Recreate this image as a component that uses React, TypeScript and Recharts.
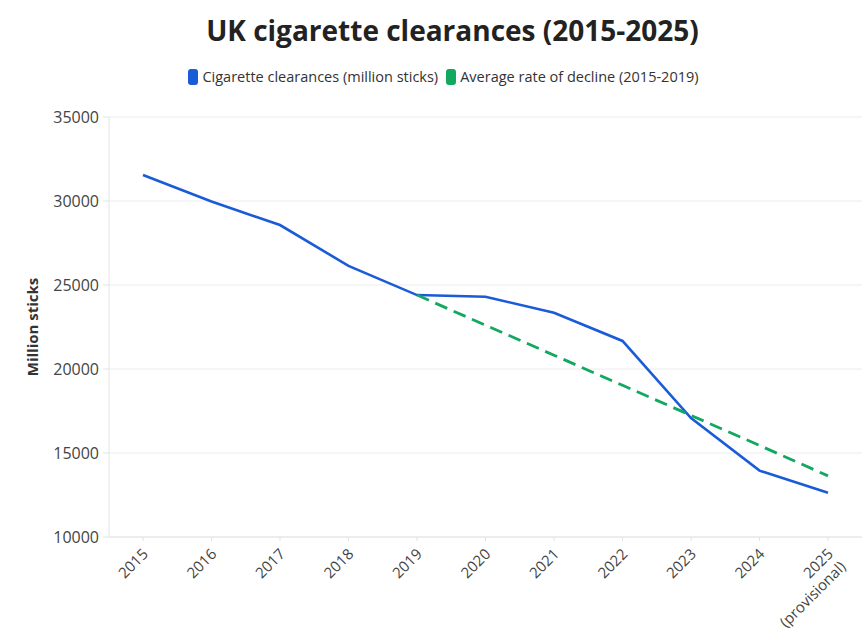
import React from 'react';
import { LineChart, Line, XAxis, YAxis, CartesianGrid } from 'recharts';

const years = ['2015', '2016', '2017', '2018', '2019', '2020', '2021', '2022', '2023', '2024', '2025 (provisional)'];
const clearances = [31550, 29970, 28570, 26140, 24400, 24300, 23350, 21670, 17080, 13950, 12640];
const trend: (number | null)[] = [null, null, null, null, 24400, 22610, 20820, 19030, 17240, 15450, 13640];
const yTicks = [10000, 15000, 20000, 25000, 30000, 35000];

const BLUE = '#1a5bd8';
const GREEN = '#13a862';
const FONT = '"Open Sans", "DejaVu Sans", sans-serif';

const data = years.map((y, i) => ({ year: y, clearances: clearances[i], trend: trend[i] }));

const XTick = (props: any) => {
  const { x, payload } = props;
  const lines = String(payload.value).split(' ');
  return (
    <g transform={`translate(${x + 6},${555})`}>
      <text transform="rotate(-45)" textAnchor="end" fill="#444" fontSize={15} fontFamily={FONT}>
        {lines.map((l: string, i: number) => (
          <tspan key={i} x={0} dy={i === 0 ? 0 : 18}>{l}</tspan>
        ))}
      </text>
    </g>
  );
};

const LegendItem = ({ color, label }: { color: string; label: string }) => (
  <span style={{ display: 'inline-flex', alignItems: 'center', marginRight: 8 }}>
    <span style={{ display: 'inline-block', width: 10, height: 16, borderRadius: 3, background: color, marginRight: 4 }} />
    <span>{label}</span>
  </span>
);

export default function App() {
  return (
    <div style={{ position: 'absolute', left: 0, top: 0, width: 865, height: 643, background: '#fff', fontFamily: FONT }}>
      <div style={{ position: 'absolute', top: 11, left: 20, width: 865, textAlign: 'center', fontSize: 28, fontWeight: 700, color: '#222', lineHeight: '38px' }}>
        UK cigarette clearances (2015-2025)
      </div>
      <div style={{ position: 'absolute', top: 67, left: 15, width: 865, display: 'flex', justifyContent: 'center', fontSize: 14.5, color: '#333', lineHeight: '20px' }}>
        <LegendItem color={BLUE} label="Cigarette clearances (million sticks)" />
        <LegendItem color={GREEN} label="Average rate of decline (2015-2019)" />
      </div>
      <LineChart width={865} height={643} data={data} margin={{ top: 117, right: 3, bottom: 76, left: 49 }} style={{ position: 'absolute', left: 0, top: 0 }}>
        <CartesianGrid vertical={false} stroke="#ececec" />
        <XAxis
          dataKey="year"
          height={30}
          padding={{ left: 34, right: 34 }}
          axisLine={{ stroke: '#e4e4e4' }}
          tickLine={{ stroke: '#e4e4e4' }}
          tickSize={4}
          interval={0}
          tick={<XTick />}
        />
        <YAxis
          width={60}
          domain={[10000, 35000]}
          ticks={yTicks}
          axisLine={{ stroke: '#e4e4e4' }}
          tickLine={{ stroke: '#e4e4e4' }}
          tickSize={6}
          tickMargin={4}
          tick={{ fill: '#444', fontSize: 16, fontFamily: FONT }}
          label={{ value: 'Million sticks', angle: -90, position: 'insideLeft', offset: -16, style: { textAnchor: 'middle', fontWeight: 700, fontSize: 15, fill: '#333', fontFamily: FONT } }}
        />
        <Line type="linear" dataKey="clearances" stroke={BLUE} strokeWidth={2.6} dot={false} isAnimationActive={false} />
        <Line type="linear" dataKey="trend" stroke={GREEN} strokeWidth={2.8} strokeDasharray="13 7" dot={false} isAnimationActive={false} />
      </LineChart>
    </div>
  );
}
